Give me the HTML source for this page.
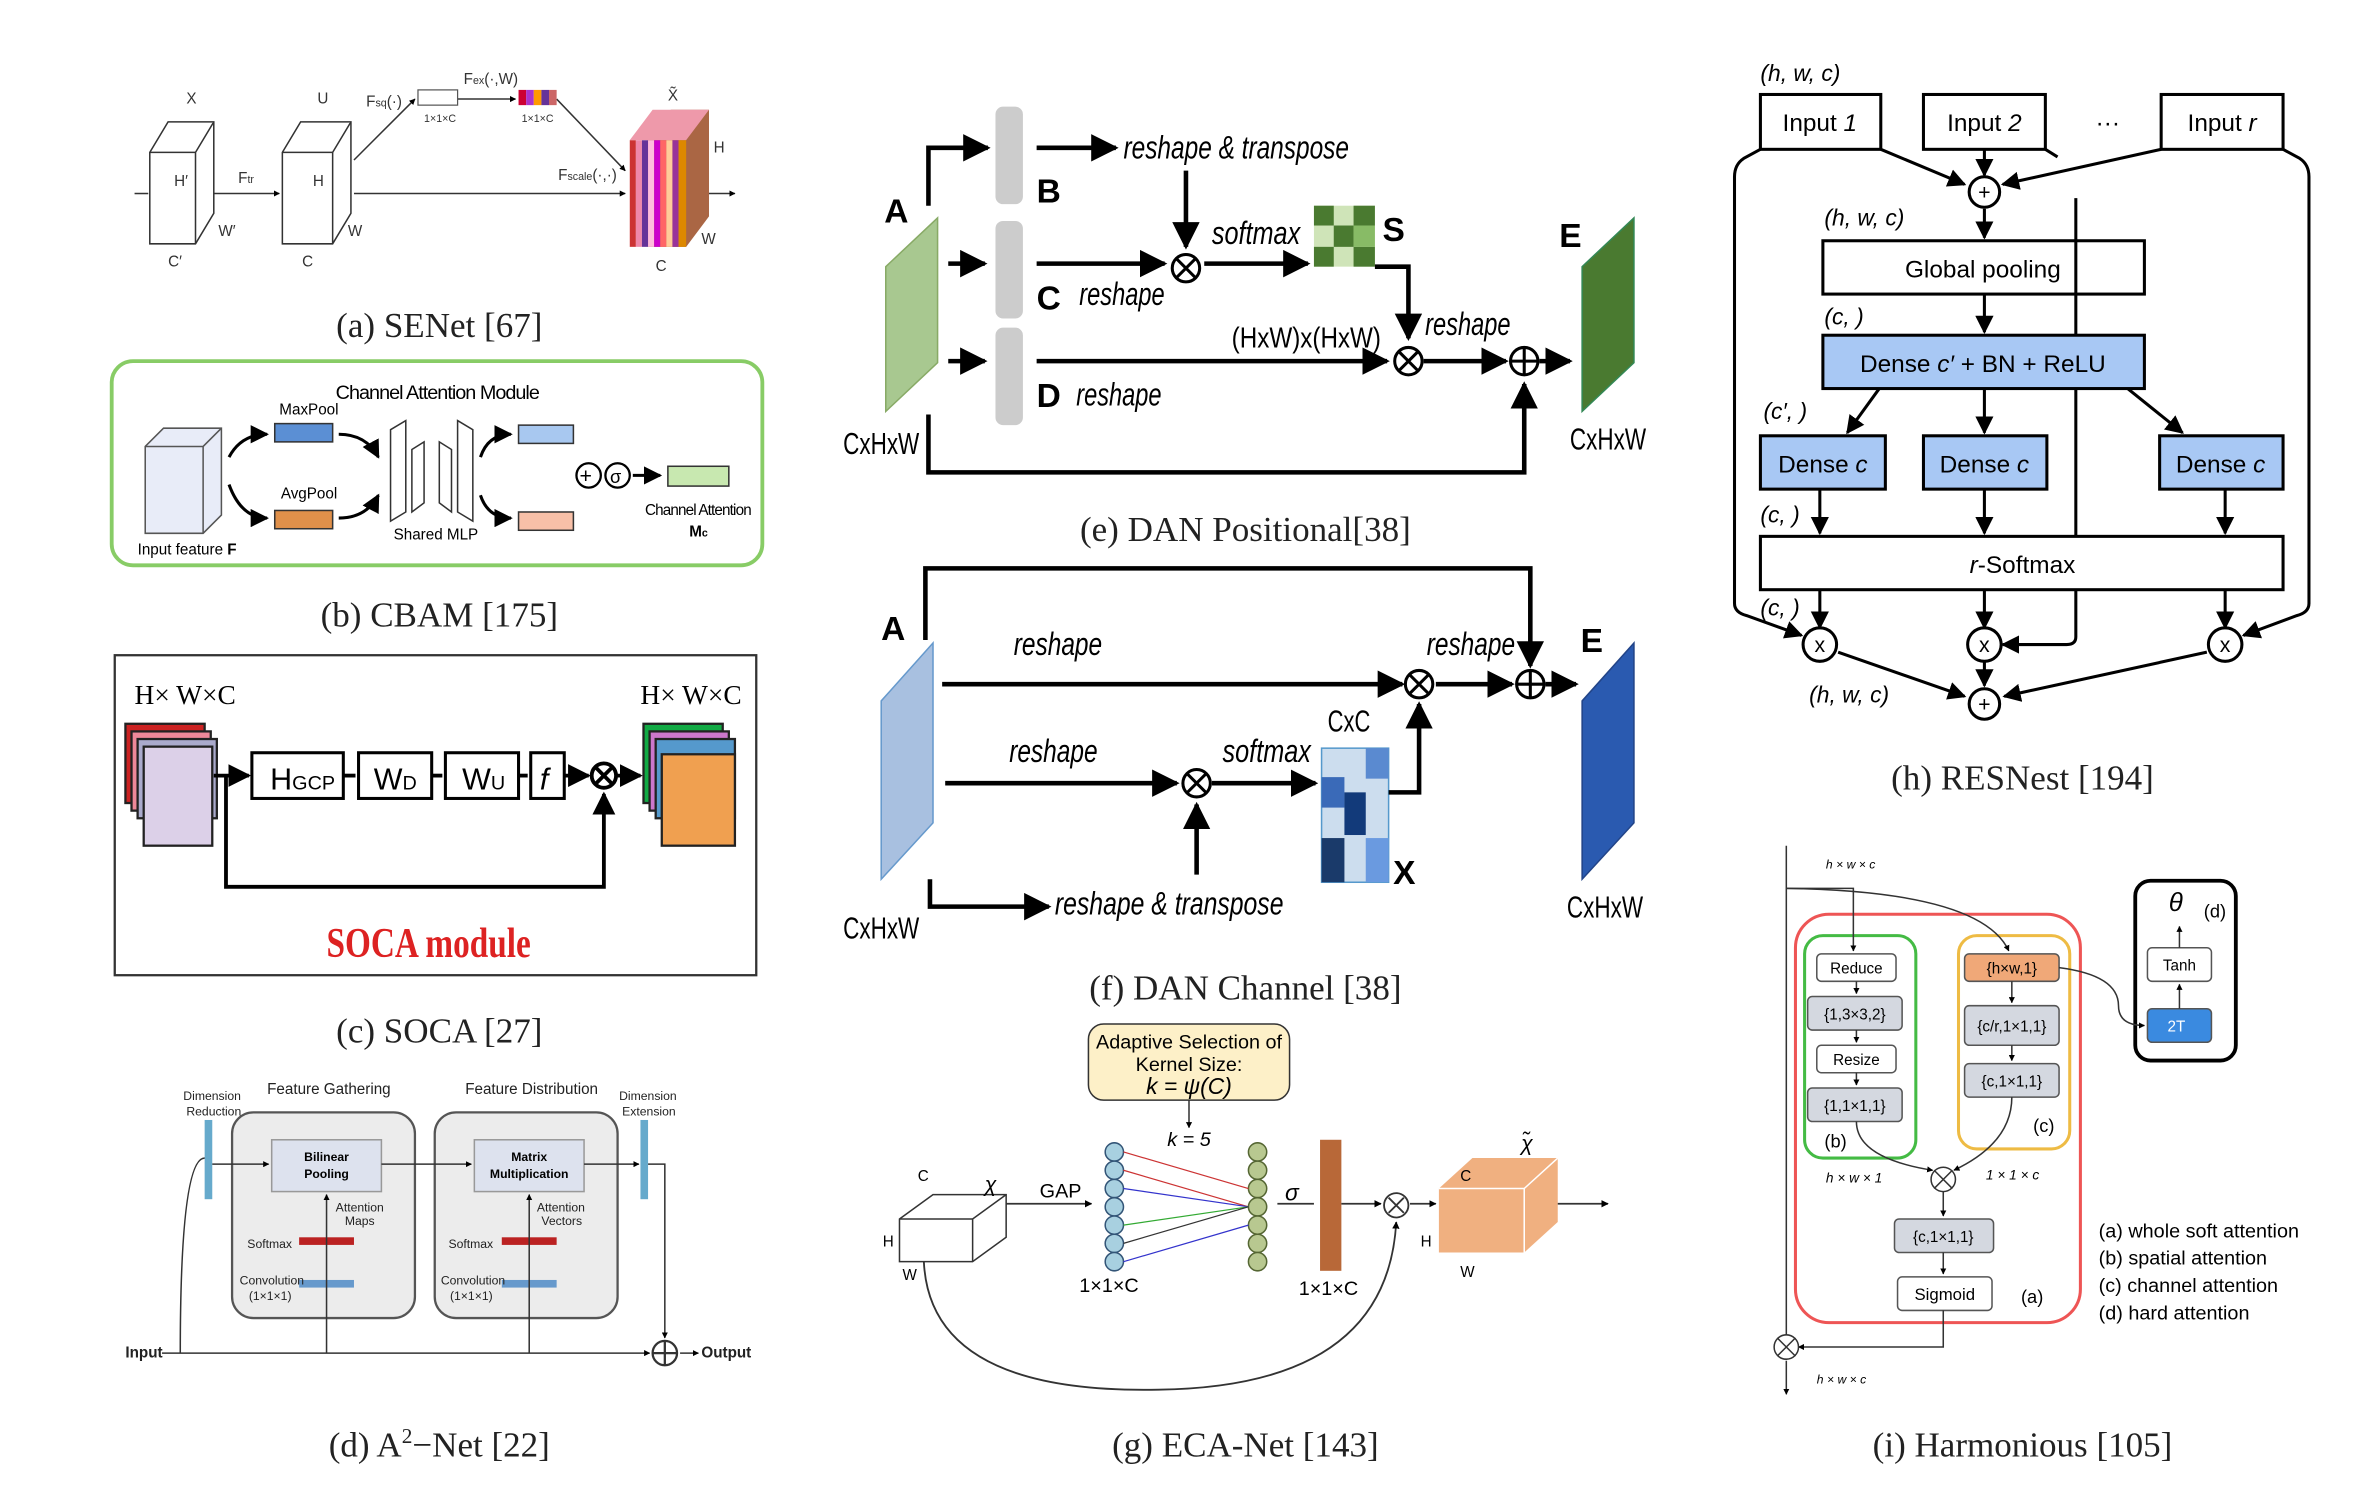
<!DOCTYPE html>
<html><head><meta charset="utf-8"><style>
html,body{margin:0;padding:0;background:#fff;}
svg{display:block;}
text{font-family:"Liberation Sans",sans-serif;}
.cap{font-family:"Liberation Serif",serif;font-size:23px;fill:#222;text-anchor:middle;}
.s{font-family:"Liberation Serif",serif;}
</style></head><body>
<svg width="2378" height="1507" viewBox="0 0 1560 989" xmlns="http://www.w3.org/2000/svg">
<defs>
<marker id="ar" viewBox="0 0 10 10" refX="9" refY="5" markerWidth="6" markerHeight="6" orient="auto"><path d="M0,0L10,5L0,10z" fill="#000"/></marker>
<marker id="as" viewBox="0 0 10 10" refX="9" refY="5" markerWidth="4" markerHeight="4" orient="auto"><path d="M0,0L10,5L0,10z" fill="#000"/></marker>
</defs>

<!-- (a) SENet -->
<g stroke="#333" fill="#fff" stroke-width="1">
<path d="M98,100 L110,80 L140,80 L140,140 L128,160 L98,160z"/><path d="M98,100 L128,100 L140,80 M128,100 L128,160"/>
<path d="M185,100 L197,80 L230,80 L230,140 L218,160 L185,160z"/><path d="M185,100 L218,100 L230,80 M218,100 L218,160"/>
</g>
<g fill="none" stroke="#333" stroke-width="1">
<line x1="140" y1="127" x2="183" y2="127" marker-end="url(#as)"/>
<line x1="88" y1="127" x2="97" y2="127"/>
<line x1="232" y1="105" x2="272" y2="65" marker-end="url(#as)"/>
<line x1="300" y1="65" x2="338" y2="65" marker-end="url(#as)"/>
<line x1="365" y1="65" x2="410" y2="112" marker-end="url(#as)"/>
<line x1="232" y1="127" x2="410" y2="127" marker-end="url(#as)"/>
<line x1="465" y1="127" x2="482" y2="127" marker-end="url(#as)"/>
</g>
<rect x="274" y="59" width="26" height="10" fill="#fff" stroke="#555" stroke-width="0.8"/>
<g><rect x="340" y="59" width="5" height="10" fill="#c03"/><rect x="345" y="59" width="5" height="10" fill="#a3c"/><rect x="350" y="59" width="5" height="10" fill="#f90"/><rect x="355" y="59" width="5" height="10" fill="#639"/><rect x="360" y="59" width="5" height="10" fill="#c66"/></g>
<g>
<path d="M425,92 L440,72 L465,72 L465,142 L450,162 L425,162z" fill="#a64"/>
<rect x="413" y="92" width="4" height="70" fill="#c33"/><rect x="417" y="92" width="4" height="70" fill="#e8a"/><rect x="421" y="92" width="4" height="70" fill="#639"/><rect x="425" y="92" width="4" height="70" fill="#fbd"/><rect x="429" y="92" width="4" height="70" fill="#c0c"/><rect x="433" y="92" width="4" height="70" fill="#f66"/><rect x="437" y="92" width="4" height="70" fill="#fc9"/><rect x="441" y="92" width="4" height="70" fill="#939"/><rect x="445" y="92" width="5" height="70" fill="#d80"/>
<path d="M413,92 L428,72 L465,72 L450,92z" fill="#e9a"/>
</g>
<g class="s" font-size="10" fill="#333">
<text x="122" y="68">X</text><text x="208" y="68">U</text><text x="438" y="66">X̃</text>
<text x="114" y="122">H′</text><text x="205" y="122">H</text><text x="143" y="155">W′</text><text x="228" y="155">W</text>
<text x="110" y="175">C′</text><text x="198" y="175">C</text><text x="430" y="178">C</text><text x="468" y="100">H</text><text x="460" y="160">W</text>
<text x="156" y="120">F<tspan font-size="7">tr</tspan></text><text x="240" y="70">F<tspan font-size="7">sq</tspan>(·)</text>
<text x="304" y="55">F<tspan font-size="7">ex</tspan>(·,W)</text><text x="366" y="118">F<tspan font-size="7">scale</tspan>(·,·)</text>
<text x="278" y="80" font-size="7">1×1×C</text><text x="342" y="80" font-size="7">1×1×C</text>
</g>
<text class="cap" x="288" y="221">(a) SENet [67]</text>

<!-- (b) CBAM -->
<rect x="73" y="237" width="427" height="134" rx="14" fill="#fff" stroke="#8c6" stroke-width="2.5"/>
<text x="220" y="262" font-size="13" textLength="134">Channel Attention Module</text>
<path d="M95,293 L107,281 L145,281 L145,338 L133,350 L95,350z" fill="#e8ecf8" stroke="#555"/><path d="M95,293 L133,293 L145,281 M133,293 L133,350" fill="none" stroke="#555"/>
<text x="90" y="364" font-size="10">Input feature <tspan font-weight="bold">F</tspan></text>
<rect x="180" y="278" width="38" height="12" fill="#5b8fd4" stroke="#333"/><text x="183" y="272" font-size="10">MaxPool</text>
<rect x="180" y="335" width="38" height="12" fill="#e0904a" stroke="#333"/><text x="184" y="327" font-size="10">AvgPool</text>
<g fill="none" stroke="#000" stroke-width="2"><path d="M150,300 Q158,285 175,285" marker-end="url(#ar)"/><path d="M150,318 Q158,340 175,340" marker-end="url(#ar)"/><path d="M222,285 Q240,285 248,300" marker-end="url(#ar)"/><path d="M222,340 Q240,340 248,325" marker-end="url(#ar)"/><path d="M315,300 Q320,285 335,285" marker-end="url(#ar)"/><path d="M315,325 Q320,340 335,340" marker-end="url(#ar)"/></g>
<g fill="#fff" stroke="#333"><path d="M256,282 L266,276 L266,336 L256,342z"/><path d="M270,295 L278,290 L278,330 L270,336z"/><path d="M288,290 L296,295 L296,336 L288,330z"/><path d="M300,276 L310,282 L310,342 L300,336z"/></g>
<text x="258" y="354" font-size="10">Shared MLP</text>
<rect x="340" y="279" width="36" height="12" fill="#a8c8f0" stroke="#333"/>
<rect x="340" y="336" width="36" height="12" fill="#f8c0a8" stroke="#333"/>
<circle cx="386" cy="312" r="8" fill="none" stroke="#000" stroke-width="1.5"/><text x="380" y="317" font-size="14">+</text>
<circle cx="405" cy="312" r="8" fill="none" stroke="#000" stroke-width="1.5"/><text x="400" y="317" font-size="12">σ</text>
<line x1="415" y1="312" x2="433" y2="312" stroke="#000" stroke-width="2" marker-end="url(#ar)"/>
<rect x="438" y="306" width="40" height="13" fill="#c8e8b0" stroke="#333"/>
<text x="423" y="338" font-size="10" textLength="70">Channel Attention</text><text x="452" y="352" font-size="10" font-weight="bold">M<tspan font-size="7">c</tspan></text>
<text class="cap" x="288" y="411">(b) CBAM [175]</text>

<!-- (c) SOCA -->
<rect x="75" y="430" width="421" height="210" fill="#fff" stroke="#333" stroke-width="1.5"/>
<text x="88" y="462" font-size="18" class="s">H× W×C</text><text x="420" y="462" font-size="18" class="s">H× W×C</text>
<g stroke="#222" stroke-width="1.5"><rect x="82" y="475" width="52" height="52" fill="#c22"/><rect x="86" y="480" width="52" height="52" fill="#e89"/><rect x="90" y="485" width="52" height="52" fill="#aac"/><rect x="94" y="490" width="45" height="65" fill="#dcd0e8"/></g>
<g stroke="#222" stroke-width="1.5"><rect x="422" y="475" width="52" height="52" fill="#1a4"/><rect x="426" y="480" width="52" height="52" fill="#c7c"/><rect x="430" y="485" width="52" height="52" fill="#59c"/><rect x="434" y="495" width="48" height="60" fill="#f0a050"/></g>
<g stroke="#000" stroke-width="2" fill="#fff">
<rect x="165" y="494" width="60" height="30"/><rect x="235" y="494" width="48" height="30"/><rect x="292" y="494" width="48" height="30"/><rect x="348" y="494" width="22" height="30"/>
</g>
<g class="s" font-size="20"><text x="177" y="518">H<tspan font-size="13">GCP</tspan></text><text x="245" y="518">W<tspan font-size="13">D</tspan></text><text x="303" y="518">W<tspan font-size="13">U</tspan></text><text x="354" y="518" font-style="italic">f</text></g>
<g stroke="#000" stroke-width="2.5" fill="none">
<line x1="140" y1="509" x2="163" y2="509" marker-end="url(#ar)"/><line x1="225" y1="509" x2="233" y2="509"/><line x1="283" y1="509" x2="290" y2="509"/><line x1="340" y1="509" x2="346" y2="509"/><line x1="370" y1="509" x2="386" y2="509" marker-end="url(#ar)"/>
<line x1="404" y1="509" x2="420" y2="509" marker-end="url(#ar)"/>
<polyline points="148,509 148,582 396,582 396,521" marker-end="url(#ar)"/>
<circle cx="396" cy="509" r="8"/><path d="M390,503L402,515M402,503L390,515"/>
</g>
<text x="214" y="628" font-size="28" fill="#d22" class="s" font-weight="bold" textLength="134" lengthAdjust="spacingAndGlyphs">SOCA module</text>
<text class="cap" x="288" y="684">(c) SOCA [27]</text>

<!-- (d) A2-Net -->
<rect x="152" y="730" width="120" height="135" rx="14" fill="#ececec" stroke="#555" stroke-width="1.5"/>
<rect x="285" y="730" width="120" height="135" rx="14" fill="#ececec" stroke="#555" stroke-width="1.5"/>
<rect x="178" y="748" width="72" height="34" fill="#dde2ee" stroke="#999"/><rect x="311" y="748" width="72" height="34" fill="#dde2ee" stroke="#999"/>
<g font-size="8" font-weight="bold" text-anchor="middle"><text x="214" y="762">Bilinear</text><text x="214" y="773">Pooling</text><text x="347" y="762">Matrix</text><text x="347" y="773">Multiplication</text></g>
<rect x="196" y="812" width="36" height="5" fill="#b22"/><rect x="196" y="840" width="36" height="5" fill="#69c"/>
<rect x="329" y="812" width="36" height="5" fill="#b22"/><rect x="329" y="840" width="36" height="5" fill="#69c"/>
<rect x="134" y="735" width="5" height="52" fill="#6ac"/><rect x="420" y="735" width="5" height="52" fill="#6ac"/>
<g font-size="8" fill="#222">
<text x="120" y="722">Dimension</text><text x="122" y="732">Reduction</text><text x="406" y="722">Dimension</text><text x="408" y="732">Extension</text>
<text x="175" y="718" font-size="10">Feature Gathering</text><text x="305" y="718" font-size="10">Feature Distribution</text>
<text x="220" y="795">Attention</text><text x="226" y="804">Maps</text><text x="352" y="795">Attention</text><text x="355" y="804">Vectors</text>
<text x="162" y="819">Softmax</text><text x="294" y="819">Softmax</text>
<text x="157" y="843">Convolution</text><text x="163" y="853">(1×1×1)</text><text x="289" y="843">Convolution</text><text x="295" y="853">(1×1×1)</text>
<text x="82" y="891" font-size="10" font-weight="bold">Input</text><text x="460" y="891" font-size="10" font-weight="bold">Output</text>
</g>
<g stroke="#333" stroke-width="1" fill="none">
<line x1="106" y1="888" x2="426" y2="888" marker-end="url(#as)"/><line x1="446" y1="888" x2="458" y2="888" marker-end="url(#as)"/>
<path d="M118,888 Q118,760 134,760"/><line x1="139" y1="764" x2="176" y2="764" marker-end="url(#as)"/>
<line x1="250" y1="764" x2="309" y2="764" marker-end="url(#as)"/><line x1="383" y1="764" x2="419" y2="764" marker-end="url(#as)"/>
<line x1="214" y1="888" x2="214" y2="784" marker-end="url(#as)"/><line x1="347" y1="888" x2="347" y2="784" marker-end="url(#as)"/>
<polyline points="425,764 436,764 436,878" marker-end="url(#as)"/>
<circle cx="436" cy="888" r="8" stroke-width="1.5"/><path d="M428,888h16M436,880v16" stroke-width="1.5"/>
</g>
<text class="cap" x="288" y="956">(d) A<tspan font-size="14" dy="-9">2</tspan><tspan dy="9">−Net [22]</tspan></text>

<!-- (e) DAN Positional -->
<path d="M581,175 L615,143 L615,238 L581,270z" fill="#a8c890" stroke="#8a6"/>
<rect x="653" y="70" width="18" height="64" rx="5" fill="#ccc"/><rect x="653" y="145" width="18" height="64" rx="5" fill="#ccc"/><rect x="653" y="215" width="18" height="64" rx="5" fill="#ccc"/>
<path d="M1038,175 L1072,143 L1072,238 L1038,270z" fill="#4a7a30" stroke="#385"/>
<g fill="#4a7a30"><rect x="862" y="135" width="40" height="40" fill="#cfe4b8"/><rect x="862" y="135" width="13" height="13"/><rect x="888" y="135" width="14" height="13"/><rect x="875" y="148" width="13" height="14"/><rect x="862" y="162" width="13" height="13"/><rect x="888" y="162" width="14" height="13"/><rect x="888" y="148" width="14" height="14" fill="#8b6"/></g>
<g stroke="#000" stroke-width="3" fill="none">
<polyline points="609,135 609,97 648,97" marker-end="url(#ar)"/>
<line x1="622" y1="173" x2="646" y2="173" marker-end="url(#ar)"/><line x1="622" y1="237" x2="646" y2="237" marker-end="url(#ar)"/>
<line x1="680" y1="97" x2="732" y2="97" marker-end="url(#ar)"/>
<line x1="778" y1="112" x2="778" y2="162" marker-end="url(#ar)"/>
<line x1="680" y1="173" x2="764" y2="173" marker-end="url(#ar)"/>
<line x1="790" y1="173" x2="858" y2="173" marker-end="url(#ar)"/>
<polyline points="902,175 924,175 924,222" marker-end="url(#ar)"/>
<line x1="680" y1="237" x2="910" y2="237" marker-end="url(#ar)"/>
<line x1="934" y1="237" x2="988" y2="237" marker-end="url(#ar)"/><line x1="1010" y1="237" x2="1030" y2="237" marker-end="url(#ar)"/>
<polyline points="609,272 609,310 1000,310 1000,252" marker-end="url(#ar)"/>
</g>
<g stroke="#000" stroke-width="2" fill="#fff"><circle cx="778" cy="176" r="9"/><path d="M772,170l12,12M784,170l-12,12"/><circle cx="924" cy="237" r="9"/><path d="M918,231l12,12M930,231l-12,12"/><circle cx="1000" cy="237" r="9"/><path d="M991,237h18M1000,228v18"/></g>
<g font-size="21" lengthAdjust="spacingAndGlyphs"><text x="737" y="104" font-style="italic" textLength="148" lengthAdjust="spacingAndGlyphs">reshape &amp; transpose</text><text x="795" y="160" font-style="italic" textLength="58" lengthAdjust="spacingAndGlyphs">softmax</text><text x="708" y="200" font-style="italic" textLength="56" lengthAdjust="spacingAndGlyphs">reshape</text><text x="706" y="266" font-style="italic" textLength="56" lengthAdjust="spacingAndGlyphs">reshape</text><text x="935" y="220" font-style="italic" textLength="56" lengthAdjust="spacingAndGlyphs">reshape</text><text x="808" y="228" font-size="19" textLength="98" lengthAdjust="spacingAndGlyphs">(HxW)x(HxW)</text><text x="553" y="298" font-size="20" textLength="50" lengthAdjust="spacingAndGlyphs">CxHxW</text><text x="1030" y="295" font-size="20" textLength="50" lengthAdjust="spacingAndGlyphs">CxHxW</text></g>
<g class="s" font-size="22"><text x="580" y="146" font-weight="bold">A</text><text x="680" y="133" font-weight="bold">B</text><text x="680" y="203" font-weight="bold">C</text><text x="680" y="267" font-weight="bold">D</text><text x="907" y="158" font-weight="bold">S</text><text x="1023" y="162" font-weight="bold">E</text></g>
<text class="cap" x="817" y="355">(e) DAN Positional[38]</text>

<!-- (f) DAN Channel -->
<path d="M578,460 L612,422 L612,540 L578,577z" fill="#a8c0e0" stroke="#69c"/>
<path d="M1038,460 L1072,422 L1072,540 L1038,577z" fill="#2a5ab0" stroke="#248"/>
<g><rect x="867" y="491" width="44" height="88" fill="#cde"/><rect x="867" y="491" width="44" height="88" fill="none" stroke="#59c"/>
<rect x="867" y="510" width="15" height="20" fill="#3a6ab8"/><rect x="882" y="520" width="14" height="28" fill="#123a7a"/><rect x="867" y="550" width="15" height="29" fill="#1a3a6a"/><rect x="896" y="491" width="15" height="20" fill="#5a8ad0"/><rect x="896" y="550" width="15" height="29" fill="#6a9ae0"/></g>
<g stroke="#000" stroke-width="3" fill="none">
<polyline points="607,420 607,373 1004,373 1004,437" marker-end="url(#ar)"/>
<line x1="618" y1="449" x2="920" y2="449" marker-end="url(#ar)"/>
<line x1="942" y1="449" x2="992" y2="449" marker-end="url(#ar)"/><line x1="1014" y1="449" x2="1034" y2="449" marker-end="url(#ar)"/>
<line x1="620" y1="514" x2="772" y2="514" marker-end="url(#ar)"/>
<line x1="795" y1="514" x2="863" y2="514" marker-end="url(#ar)"/>
<line x1="785" y1="574" x2="785" y2="528" marker-end="url(#ar)"/>
<polyline points="911,520 931,520 931,462" marker-end="url(#ar)"/>
<polyline points="610,577 610,595 688,595" marker-end="url(#ar)"/>
</g>
<g stroke="#000" stroke-width="2" fill="#fff"><circle cx="931" cy="449" r="9"/><path d="M925,443l12,12M937,443l-12,12"/><circle cx="1004" cy="449" r="9"/><path d="M995,449h18M1004,440v18"/><circle cx="785" cy="514" r="9"/><path d="M779,508l12,12M791,508l-12,12"/></g>
<g font-size="21"><text x="665" y="430" font-style="italic" textLength="58" lengthAdjust="spacingAndGlyphs">reshape</text><text x="936" y="430" font-style="italic" textLength="58" lengthAdjust="spacingAndGlyphs">reshape</text><text x="662" y="500" font-style="italic" textLength="58" lengthAdjust="spacingAndGlyphs">reshape</text><text x="802" y="500" font-style="italic" textLength="58" lengthAdjust="spacingAndGlyphs">softmax</text><text x="692" y="600" font-style="italic" textLength="150" lengthAdjust="spacingAndGlyphs">reshape &amp; transpose</text>
<text x="871" y="480" font-size="20" textLength="28" lengthAdjust="spacingAndGlyphs">CxC</text><text x="553" y="616" font-size="20" textLength="50" lengthAdjust="spacingAndGlyphs">CxHxW</text><text x="1028" y="602" font-size="20" textLength="50" lengthAdjust="spacingAndGlyphs">CxHxW</text></g>
<g class="s" font-size="22"><text x="578" y="420" font-weight="bold">A</text><text x="1037" y="428" font-weight="bold">E</text><text x="914" y="580" font-weight="bold">X</text></g>
<text class="cap" x="817" y="656">(f) DAN Channel [38]</text>

<!-- (g) ECA-Net -->
<rect x="714" y="672" width="132" height="50" rx="10" fill="#fdf0c8" stroke="#333"/>
<g class="s" text-anchor="middle" font-size="13"><text x="780" y="688">Adaptive Selection of</text><text x="780" y="703">Kernel Size:</text><text x="780" y="718" font-style="italic" font-size="15">k = ψ(C)</text><text x="780" y="752" font-style="italic">k = 5</text></g>
<line x1="780" y1="722" x2="780" y2="740" stroke="#333" marker-end="url(#as)"/>
<path d="M590,800 L612,784 L660,784 L660,812 L638,828 L590,828z" fill="#fff" stroke="#333"/><path d="M590,800 L638,800 L660,784 M638,800 L638,828" fill="none" stroke="#333"/>
<g fill="#a8d0e0" stroke="#357"><circle cx="731" cy="756" r="6"/><circle cx="731" cy="768" r="6"/><circle cx="731" cy="780" r="6"/><circle cx="731" cy="792" r="6"/><circle cx="731" cy="804" r="6"/><circle cx="731" cy="816" r="6"/><circle cx="731" cy="828" r="6"/></g>
<g fill="#b8c890" stroke="#563"><circle cx="825" cy="756" r="6"/><circle cx="825" cy="768" r="6"/><circle cx="825" cy="780" r="6"/><circle cx="825" cy="792" r="6"/><circle cx="825" cy="804" r="6"/><circle cx="825" cy="816" r="6"/><circle cx="825" cy="828" r="6"/></g>
<g stroke-width="0.8"><line x1="737" y1="768" x2="819" y2="792" stroke="#c33"/><line x1="737" y1="780" x2="819" y2="792" stroke="#33c"/><line x1="737" y1="804" x2="819" y2="792" stroke="#3a3"/><line x1="737" y1="816" x2="819" y2="792" stroke="#333"/><line x1="737" y1="756" x2="819" y2="780" stroke="#c33"/><line x1="737" y1="828" x2="819" y2="804" stroke="#33c"/></g>
<rect x="866" y="748" width="14" height="86" fill="#b86838"/>
<path d="M944,780 L966,760 L1022,760 L1022,802 L1000,822 L944,822z" fill="#f0b080"/><path d="M944,780 L1000,780 L1022,760 M1000,780 L1000,822" fill="none" stroke="#fff"/>
<g stroke="#333" stroke-width="1.2" fill="none"><line x1="660" y1="790" x2="716" y2="790" marker-end="url(#as)"/><line x1="880" y1="790" x2="906" y2="790" marker-end="url(#as)"/><line x1="925" y1="790" x2="942" y2="790" marker-end="url(#as)"/><line x1="1022" y1="790" x2="1055" y2="790" marker-end="url(#as)"/><line x1="838" y1="790" x2="862" y2="790"/>
<path d="M606,828 Q610,915 760,912 Q910,910 916,802" marker-end="url(#as)"/>
<circle cx="916" cy="791" r="8" fill="#fff"/><path d="M911,786l10,10M921,786l-10,10"/></g>
<g class="s" font-size="13"><text x="682" y="786">GAP</text><text x="843" y="788" font-style="italic" font-size="15">σ</text><text x="708" y="848">1×1×C</text><text x="852" y="850">1×1×C</text><text x="646" y="782" font-style="italic" font-size="14">χ</text><text x="998" y="755" font-style="italic" font-size="14">χ̃</text>
<text x="602" y="775" font-size="10">C</text><text x="579" y="818" font-size="10">H</text><text x="592" y="840" font-size="10">W</text><text x="958" y="775" font-size="10">C</text><text x="932" y="818" font-size="10">H</text><text x="958" y="838" font-size="10">W</text></g>
<text class="cap" x="817" y="956">(g) ECA-Net [143]</text>

<!-- (h) RESNest -->
<g font-size="15" font-style="italic"><text x="1155" y="53">(h, w, c)</text><text x="1197" y="148">(h, w, c)</text><text x="1197" y="213">(c, )</text><text x="1157" y="275">(c′, )</text><text x="1155" y="343">(c, )</text><text x="1155" y="404">(c, )</text><text x="1187" y="461">(h, w, c)</text></g>
<g stroke="#000" stroke-width="2" fill="#fff">
<rect x="1155" y="62" width="79" height="36"/><rect x="1262" y="62" width="80" height="36"/><rect x="1418" y="62" width="80" height="36"/>
<rect x="1196" y="158" width="211" height="35"/>
<rect x="1196" y="220" width="211" height="35" fill="#a8c8f4"/>
<rect x="1155" y="286" width="82" height="35" fill="#a8c8f4"/><rect x="1262" y="286" width="81" height="35" fill="#a8c8f4"/><rect x="1417" y="286" width="81" height="35" fill="#a8c8f4"/>
<rect x="1155" y="352" width="343" height="35"/>
</g>
<g font-size="16" text-anchor="middle"><text x="1194" y="86">Input <tspan font-style="italic">1</tspan></text><text x="1302" y="86">Input <tspan font-style="italic">2</tspan></text><text x="1458" y="86">Input <tspan font-style="italic">r</tspan></text><text x="1383" y="86">···</text>
<text x="1301" y="182">Global pooling</text><text x="1301" y="244">Dense <tspan font-style="italic">c′</tspan> + BN + ReLU</text>
<text x="1196" y="310">Dense <tspan font-style="italic">c</tspan></text><text x="1302" y="310">Dense <tspan font-style="italic">c</tspan></text><text x="1457" y="310">Dense <tspan font-style="italic">c</tspan></text><text x="1327" y="376"><tspan font-style="italic">r</tspan>-Softmax</text></g>
<g stroke="#000" stroke-width="2" fill="none">
<line x1="1234" y1="98" x2="1289" y2="121" marker-end="url(#ar)"/><line x1="1302" y1="98" x2="1302" y2="115" marker-end="url(#ar)"/><line x1="1418" y1="98" x2="1314" y2="121" marker-end="url(#ar)"/><line x1="1342" y1="98" x2="1350" y2="103"/>
<line x1="1302" y1="137" x2="1302" y2="156" marker-end="url(#ar)"/><line x1="1302" y1="193" x2="1302" y2="218" marker-end="url(#ar)"/>
<line x1="1362" y1="130" x2="1362" y2="220"/><line x1="1362" y1="255" x2="1362" y2="352"/>
<path d="M1362,387 V418 Q1362,423 1356,423 H1314" marker-end="url(#ar)"/>
<line x1="1233" y1="255" x2="1212" y2="284" marker-end="url(#ar)"/><line x1="1302" y1="255" x2="1302" y2="284" marker-end="url(#ar)"/><line x1="1396" y1="255" x2="1432" y2="284" marker-end="url(#ar)"/>
<line x1="1194" y1="321" x2="1194" y2="350" marker-end="url(#ar)"/><line x1="1302" y1="321" x2="1302" y2="350" marker-end="url(#ar)"/><line x1="1460" y1="321" x2="1460" y2="350" marker-end="url(#ar)"/>
<line x1="1194" y1="387" x2="1194" y2="412" marker-end="url(#ar)"/><line x1="1302" y1="387" x2="1302" y2="412" marker-end="url(#ar)"/><line x1="1460" y1="387" x2="1460" y2="412" marker-end="url(#ar)"/>
<path d="M1155,98 L1144,104 Q1138,108 1138,116 V396 Q1138,402 1146,404 L1182,417" marker-end="url(#ar)"/>
<path d="M1498,98 L1509,104 Q1515,108 1515,116 V396 Q1515,402 1507,404 L1472,417" marker-end="url(#ar)"/>
<line x1="1206" y1="428" x2="1289" y2="457" marker-end="url(#ar)"/><line x1="1302" y1="434" x2="1302" y2="450" marker-end="url(#ar)"/><line x1="1448" y1="428" x2="1315" y2="457" marker-end="url(#ar)"/>
<circle cx="1302" cy="126" r="10"/><circle cx="1194" cy="423" r="11"/><circle cx="1302" cy="423" r="11"/><circle cx="1460" cy="423" r="11"/><circle cx="1302" cy="462" r="10"/>
</g>
<g font-size="14" text-anchor="middle"><text x="1302" y="131">+</text><text x="1194" y="428">x</text><text x="1302" y="428">x</text><text x="1460" y="428">x</text><text x="1302" y="467">+</text></g>
<text class="cap" x="1327" y="518">(h) RESNest [194]</text>

<!-- (i) Harmonious -->
<rect x="1178" y="600" width="187" height="268" rx="22" fill="none" stroke="#e55" stroke-width="2"/>
<rect x="1184" y="614" width="73" height="146" rx="12" fill="none" stroke="#4b4" stroke-width="2"/>
<rect x="1285" y="614" width="73" height="140" rx="12" fill="none" stroke="#eb4" stroke-width="2"/>
<rect x="1401" y="578" width="66" height="118" rx="10" fill="none" stroke="#000" stroke-width="2.5"/>
<g stroke="#555" stroke-width="1">
<rect x="1192" y="626" width="52" height="18" rx="3" fill="#fff"/><rect x="1186" y="654" width="62" height="22" rx="3" fill="#d4d8e0"/><rect x="1192" y="686" width="52" height="18" rx="3" fill="#fff"/><rect x="1186" y="714" width="62" height="22" rx="3" fill="#d4d8e0"/>
<rect x="1289" y="626" width="62" height="18" rx="3" fill="#f0a878"/><rect x="1289" y="660" width="62" height="26" rx="3" fill="#d4d8e0"/><rect x="1289" y="698" width="62" height="22" rx="3" fill="#d4d8e0"/>
<rect x="1243" y="800" width="65" height="22" rx="3" fill="#d4d8e0"/><rect x="1245" y="838" width="62" height="22" rx="3" fill="#fff"/>
<rect x="1409" y="622" width="42" height="22" rx="3" fill="#fff"/><rect x="1409" y="662" width="42" height="22" rx="3" fill="#3a8ae0"/>
</g>
<g font-size="10" text-anchor="middle" class="s"><text x="1218" y="639">Reduce</text><text x="1217" y="669">{1,3×3,2}</text><text x="1218" y="699">Resize</text><text x="1217" y="729">{1,1×1,1}</text>
<text x="1320" y="639">{h×w,1}</text><text x="1320" y="677">{c/r,1×1,1}</text><text x="1320" y="713">{c,1×1,1}</text><text x="1275" y="815">{c,1×1,1}</text><text x="1276" y="853" font-size="11">Sigmoid</text>
<text x="1430" y="637">Tanh</text><text x="1428" y="677" fill="#fff">2T</text></g>
<g class="s" font-size="12"><text x="1197" y="753">(b)</text><text x="1334" y="743">(c)</text><text x="1326" y="855">(a)</text><text x="1446" y="602">(d)</text><text x="1423" y="598" font-size="17" font-style="italic">θ</text>
<text x="1198" y="570" font-size="8" font-style="italic">h × w × c</text><text x="1198" y="776" font-size="9" font-style="italic">h × w × 1</text><text x="1303" y="774" font-size="9" font-style="italic">1 × 1 × c</text><text x="1192" y="908" font-size="8" font-style="italic">h × w × c</text>
<text x="1377" y="812" font-size="13">(a) whole soft attention</text><text x="1377" y="830" font-size="13">(b) spatial attention</text><text x="1377" y="848" font-size="13">(c) channel attention</text><text x="1377" y="866" font-size="13">(d) hard attention</text></g>
<g stroke="#333" stroke-width="1" fill="none">
<line x1="1172" y1="555" x2="1172" y2="876"/><line x1="1172" y1="893" x2="1172" y2="915" marker-end="url(#as)"/>
<polyline points="1172,583 1216,583 1216,624" marker-end="url(#as)"/>
<path d="M1172,583 Q1300,585 1318,624" marker-end="url(#as)"/>
<line x1="1218" y1="644" x2="1218" y2="652" marker-end="url(#as)"/><line x1="1218" y1="676" x2="1218" y2="684" marker-end="url(#as)"/><line x1="1218" y1="704" x2="1218" y2="712" marker-end="url(#as)"/>
<line x1="1320" y1="644" x2="1320" y2="658" marker-end="url(#as)"/><line x1="1320" y1="686" x2="1320" y2="696" marker-end="url(#as)"/>
<path d="M1218,736 Q1218,760 1268,768" marker-end="url(#as)"/><path d="M1320,720 Q1320,750 1282,768" marker-end="url(#as)"/>
<line x1="1275" y1="782" x2="1275" y2="798" marker-end="url(#as)"/><line x1="1275" y1="822" x2="1275" y2="836" marker-end="url(#as)"/>
<polyline points="1275,860 1275,884 1180,884" marker-end="url(#as)"/>
<path d="M1351,635 Q1390,640 1390,660 Q1390,673 1407,673" marker-end="url(#as)"/>
<line x1="1430" y1="662" x2="1430" y2="646" marker-end="url(#as)"/><line x1="1430" y1="622" x2="1430" y2="608" marker-end="url(#as)"/>
<circle cx="1275" cy="774" r="8"/><path d="M1269,768l12,12M1281,768l-12,12"/>
<circle cx="1172" cy="884" r="8"/><path d="M1166,878l12,12M1178,878l-12,12"/>
</g>
<text class="cap" x="1327" y="956">(i) Harmonious [105]</text>
</svg>
</body></html>
